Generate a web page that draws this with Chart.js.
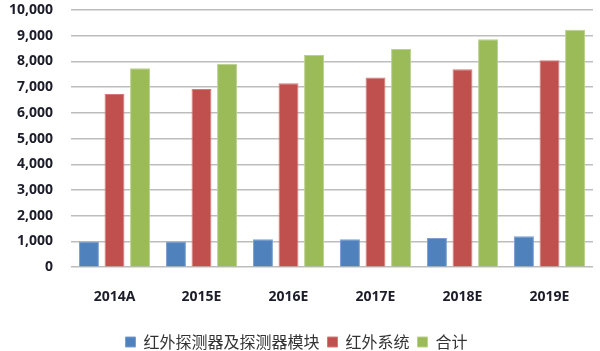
<!DOCTYPE html>
<html>
<head>
<meta charset="utf-8">
<script src="https://cdn.jsdelivr.net/npm/chart.js@4"></script>
<style>
  html, body { margin: 0; padding: 0; background: #fff; }
  #wrap { width: 600px; height: 351px; }
</style>
</head>
<body>
<div id="wrap"><canvas id="barChart"></canvas></div>
<script>
// 数据
let categories = ['2014A', '2015E', '2016E', '2017E', '2018E', '2019E'];
let detectorValues = [1000, 1000, 1090, 1090, 1140, 1200];
let systemValues = [6730, 6930, 7150, 7380, 7700, 8050];
let totalValues = [7740, 7910, 8250, 8480, 8860, 9230];
let seriesNames = ['红外探测器及探测器模块', '红外系统', '合计'];

let ctx = document.getElementById('barChart');

let barConfig = {
  type: 'bar',
  data: {
    labels: categories,
    datasets: [{
      label: seriesNames[0],
      data: detectorValues,
      backgroundColor: '#4f81bd',
      borderColor: '#7da0cf',
      borderWidth: 1
    }, {
      label: seriesNames[1],
      data: systemValues,
      backgroundColor: '#c0504d',
      borderColor: '#d27a78',
      borderWidth: 1
    }, {
      label: seriesNames[2],
      data: totalValues,
      backgroundColor: '#9bbb59',
      borderColor: '#b9d18a',
      borderWidth: 1
    }]
  },
  options: {
    responsive: true,
    maintainAspectRatio: false,
    animation: false,
    datasets: {
      bar: {
        categoryPercentage: 0.88,
        barPercentage: 0.78
      }
    },
    layout: {
      padding: { top: 0, right: 7, bottom: -9, left: 0 }
    },
    plugins: {
      tooltip: { enabled: false },
      legend: {
        position: 'bottom',
        labels: {
          boxWidth: 10,
          boxHeight: 10,
          padding: 8,
          color: '#333',
          font: { family: '"Noto Sans CJK SC"', size: 16 }
        }
      }
    },
    scales: {
      x: {
        grid: { display: false, drawTicks: false },
        border: { display: false },
        ticks: {
          padding: 21,
          color: '#1c1c2a',
          font: { family: '"Open Sans"', size: 14, weight: '700' }
        }
      },
      y: {
        min: 0,
        max: 10000,
        afterFit: function (scale) {
          scale.width = 71; // 轴宽度
          // ticks.padding が上下の余白にも足されるので戻す
          scale.paddingTop = 10;
          scale.paddingBottom = 9;
        },
        grid: { color: '#bdbdbd', lineWidth: 1.5, drawTicks: false },
        border: { display: false },
        ticks: {
          stepSize: 1000,
          padding: 18,
          color: '#1c1c2a',
          font: { family: '"Open Sans"', size: 14, weight: '700' },
          callback: function (v) { return v.toLocaleString('en-US'); }
        }
      }
    }
  }
};

let barChart = new Chart(ctx, barConfig);
</script>
</body>
</html>
